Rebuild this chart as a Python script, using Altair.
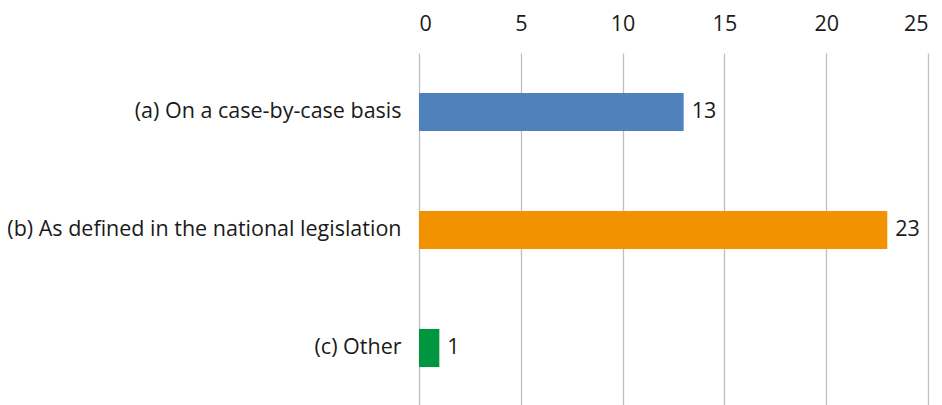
import altair as alt
import pandas as pd

categories = ["(a) On a case-by-case basis", "(b) As defined in the national legislation", "(c) Other"]
values = [13, 23, 1]
colors = ["#4f81bd", "#f39200", "#00963f"]

df = pd.DataFrame({"cat": categories, "val": values, "color": colors})

FONT = "Open Sans"
FS = 21.5

base = alt.Chart(df)

bars = base.mark_bar().encode(
    x=alt.X("val:Q", scale=alt.Scale(domain=[0, 25], nice=False),
            axis=alt.Axis(orient="top", values=[0, 5, 10, 15, 20, 25], grid=True,
                          gridColor="#bfbfbf", gridWidth=1.3, domain=False, ticks=False,
                          labelFont=FONT, labelFontSize=FS, labelColor="#1a1a1a",
                          labelBaseline="alphabetic", labelPadding=23, title=None)),
    y=alt.Y("cat:N", sort=categories,
            scale=alt.Scale(paddingInner=0.677, paddingOuter=0.3385),
            axis=alt.Axis(domain=False, ticks=False, labelFont=FONT, labelFontSize=FS,
                          labelColor="#1a1a1a", labelPadding=18, labelLimit=600, title=None)),
    color=alt.Color("color:N", scale=None, legend=None),
)

labels = base.mark_text(align="left", baseline="middle", dx=8, font=FONT, fontSize=FS,
                        color="#1a1a1a").encode(
    x="val:Q",
    y=alt.Y("cat:N", sort=categories),
    text="val:Q",
)

chart = (bars + labels).properties(
    width=509, height=354,
    autosize=alt.AutoSizeParams(type="none"),
    padding={"left": 411, "top": 45, "right": 6, "bottom": 0},
).configure_view(stroke=None)

chart.save("out.html", embed_options={"renderer": "svg", "actions": False})
